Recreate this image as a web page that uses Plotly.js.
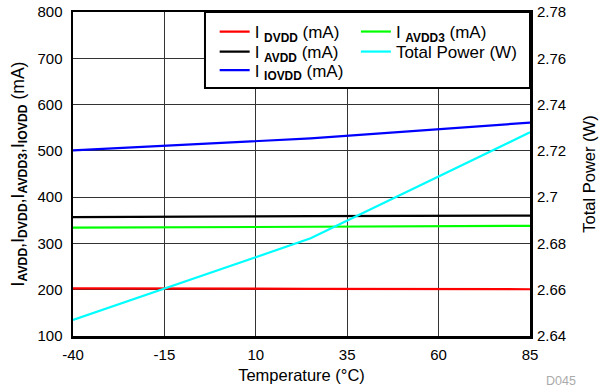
<!DOCTYPE html>
<html><head><meta charset="utf-8">
<script src="https://cdn.plot.ly/plotly-3.0.1.min.js"></script>
<style>html,body{margin:0;padding:0;background:#fff}</style>
</head><body><div id="chart" style="width:600px;height:391px"></div>
<script>
const temperature = [-40, 25, 85];
const iDVDD = [203, 202, 201];
const iAVDD = [357, 359, 360];
const iIOVDD = [501, 527, 561];
const iAVDD3 = [334, 336, 338];
const totalPower = [2.6469, 2.6822, 2.728];
const xTicks = [-40, -15, 10, 35, 60, 85];
const xTickText = ['-40', '-15', '10', '35', '60', '85'];

const font = 'Liberation Sans, Arial, sans-serif';
const traces = [
  {x: temperature, y: iDVDD, name: 'I <sub><b>DVDD</b></sub> (mA)', mode: 'lines', line: {color: '#ff0000', width: 2.2, simplify: false}, legend: 'legend'},
  {x: temperature, y: iAVDD, name: 'I <sub><b>AVDD</b></sub> (mA)', mode: 'lines', line: {color: '#000000', width: 2.2, simplify: false}, legend: 'legend2'},
  {x: temperature, y: iIOVDD, name: 'I <sub><b>IOVDD</b></sub> (mA)', mode: 'lines', line: {color: '#0000ff', width: 2.2, simplify: false}, legend: 'legend3'},
  {x: temperature, y: iAVDD3, name: 'I <sub><b>AVDD3</b></sub> (mA)', mode: 'lines', line: {color: '#00ff00', width: 2.2, simplify: false}, legend: 'legend4'},
  {x: temperature, y: totalPower, name: 'Total Power (W)', mode: 'lines', line: {color: '#00ffff', width: 2.2, simplify: false}, yaxis: 'y2', legend: 'legend5'}
];

const legendBase = {font: {family: font, size: 17, color: '#000'}, bgcolor: 'rgba(0,0,0,0)', borderwidth: 0,
  xanchor: 'left', yanchor: 'middle', itemwidth: 30};
const col1 = 0.31, col2 = 0.619;
const row1 = 0.9383, row2 = 0.8765, row3 = 0.8195;

const layout = {
  width: 600, height: 391,
  margin: {l: 73, r: 70, t: 12, b: 55},
  paper_bgcolor: '#fff', plot_bgcolor: '#fff',
  font: {family: font, size: 15, color: '#000'},
  showlegend: true,
  xaxis: {range: [-40, 85], tickvals: xTicks, ticktext: xTickText, showgrid: true, gridcolor: '#333', gridwidth: 1,
    zeroline: false, showline: true, linecolor: '#000', linewidth: 2.5, mirror: true, ticks: '',
    ticklabelstandoff: 3,
    title: {text: 'Temperature (°C)', font: {size: 16.5}, standoff: 8}, tickfont: {size: 15}},
  yaxis: {range: [100, 800], dtick: 100, showgrid: true, gridcolor: '#333', gridwidth: 1,
    zeroline: false, showline: true, linecolor: '#000', linewidth: 2.5, mirror: true, ticks: '',
    ticklabelstandoff: 5,
    title: {text: 'I<sub><b>AVDD</b></sub>,I<sub><b>DVDD</b></sub>,I<sub><b>AVDD3</b></sub>,I<sub><b>IOVDD</b></sub> (mA)', font: {size: 17.5}, standoff: 9},
    tickfont: {size: 15}},
  yaxis2: {range: [2.64, 2.78], dtick: 0.02, overlaying: 'y', side: 'right', showgrid: false,
    zeroline: false, showline: false, ticks: '', tickfont: {size: 15}, ticklabelstandoff: 6,
    title: {text: 'Total Power (W)', font: {size: 16.5}, standoff: 18}},
  legend: Object.assign({}, legendBase, {x: col1, y: row1}),
  legend2: Object.assign({}, legendBase, {x: col1, y: row2}),
  legend3: Object.assign({}, legendBase, {x: col1, y: row3}),
  legend4: Object.assign({}, legendBase, {x: col2, y: row1}),
  legend5: Object.assign({}, legendBase, {x: col2, y: row2}),
  shapes: [{type: 'rect', xref: 'paper', yref: 'paper', x0: 0.2888, x1: 1, y0: 0.7654, y1: 1,
    line: {color: '#000', width: 2}, fillcolor: '#fff', layer: 'above'}],
  annotations: [{text: 'D045', xref: 'paper', yref: 'paper', x: 1.105, y: -0.138, xanchor: 'right', yanchor: 'middle',
    showarrow: false, font: {size: 12.5, color: '#aaa'}}]
};

Plotly.newPlot('chart', traces, layout, {displayModeBar: false, staticPlot: true});
</script></body></html>
